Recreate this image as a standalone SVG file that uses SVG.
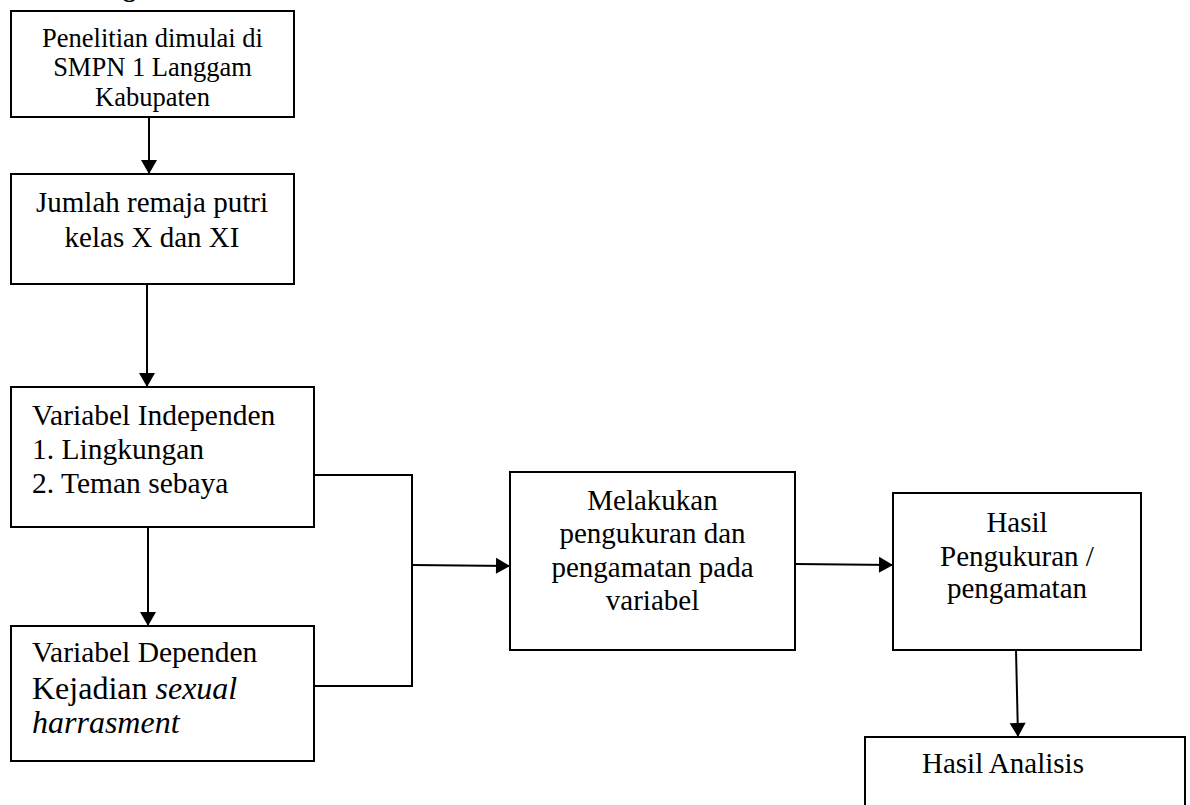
<svg xmlns="http://www.w3.org/2000/svg" width="1190" height="805" viewBox="0 0 1190 805">
<style>
  .box { fill: #ffffff; stroke: #000000; stroke-width: 2; }
  .t { font-family: "Liberation Serif", "Times New Roman", serif; fill: #000000; }
  .c { text-anchor: middle; }
  .conn { fill: none; stroke: #000000; stroke-width: 2; }
</style>
<defs>
  <marker id="arrow" markerUnits="userSpaceOnUse" markerWidth="16" markerHeight="18" viewBox="0 0 14 18" refX="14" refY="9" orient="auto">
    <path d="M0,1 L14,9 L0,17 Z" fill="#000000"/>
  </marker>
</defs>
<rect width="1190" height="805" fill="#ffffff"/>
<text class="t" x="123" y="-3" font-size="26" font-weight="bold">gram</text>

<g id="connectors">
  <line class="conn" x1="149" y1="117" x2="149" y2="174" marker-end="url(#arrow)"/>
  <line class="conn" x1="147" y1="284" x2="147" y2="387" marker-end="url(#arrow)"/>
  <line class="conn" x1="148" y1="527" x2="148" y2="626" marker-end="url(#arrow)"/>
  <polyline class="conn" points="314,475 412,475 412,686 314,686"/>
  <line class="conn" x1="412" y1="565" x2="510" y2="566" marker-end="url(#arrow)"/>
  <line class="conn" x1="796" y1="564" x2="893" y2="565" marker-end="url(#arrow)"/>
  <line class="conn" x1="1016" y1="650" x2="1018" y2="737" marker-end="url(#arrow)"/>
</g>

<g id="node-penelitian">
  <rect class="box" x="11" y="11" width="283" height="106"/>
  <text class="t c" x="152.5" y="47" font-size="26.5">Penelitian dimulai di</text>
  <text class="t c" x="152.5" y="76" font-size="26.5">SMPN 1 Langgam</text>
  <text class="t c" x="152.5" y="106" font-size="26.5">Kabupaten</text>
</g>

<g id="node-jumlah">
  <rect class="box" x="11" y="174" width="283" height="110"/>
  <text class="t c" x="152" y="212" font-size="29">Jumlah remaja putri</text>
  <text class="t c" x="152" y="247" font-size="29">kelas X dan XI</text>
</g>

<g id="node-independen">
  <rect class="box" x="11" y="387" width="303" height="140"/>
  <text class="t" x="32" y="425" font-size="29.5">Variabel Independen</text>
  <text class="t" x="32" y="459" font-size="29.5">1. Lingkungan</text>
  <text class="t" x="32" y="493" font-size="29.5">2. Teman sebaya</text>
</g>

<g id="node-dependen">
  <rect class="box" x="11" y="626" width="303" height="135"/>
  <text class="t" x="32" y="662" font-size="29.5">Variabel Dependen</text>
  <text class="t" x="32" y="699" font-size="32">Kejadian <tspan font-style="italic">sexual</tspan></text>
  <text class="t" x="32" y="733" font-size="32" font-style="italic">harrasment</text>
</g>

<g id="node-melakukan">
  <rect class="box" x="510" y="472" width="285" height="178"/>
  <text class="t c" x="652.5" y="510" font-size="29">Melakukan</text>
  <text class="t c" x="652.5" y="543" font-size="29">pengukuran dan</text>
  <text class="t c" x="652.5" y="577" font-size="29">pengamatan pada</text>
  <text class="t c" x="652.5" y="610" font-size="29">variabel</text>
</g>

<g id="node-hasil-pengukuran">
  <rect class="box" x="893" y="493" width="248" height="157"/>
  <text class="t c" x="1017" y="532" font-size="29">Hasil</text>
  <text class="t c" x="1017" y="566" font-size="29">Pengukuran /</text>
  <text class="t c" x="1017" y="598" font-size="29">pengamatan</text>
</g>

<g id="node-hasil-analisis">
  <rect class="box" x="865" y="737" width="320" height="90"/>
  <text class="t" x="922" y="773" font-size="29">Hasil Analisis</text>
</g>
</svg>
